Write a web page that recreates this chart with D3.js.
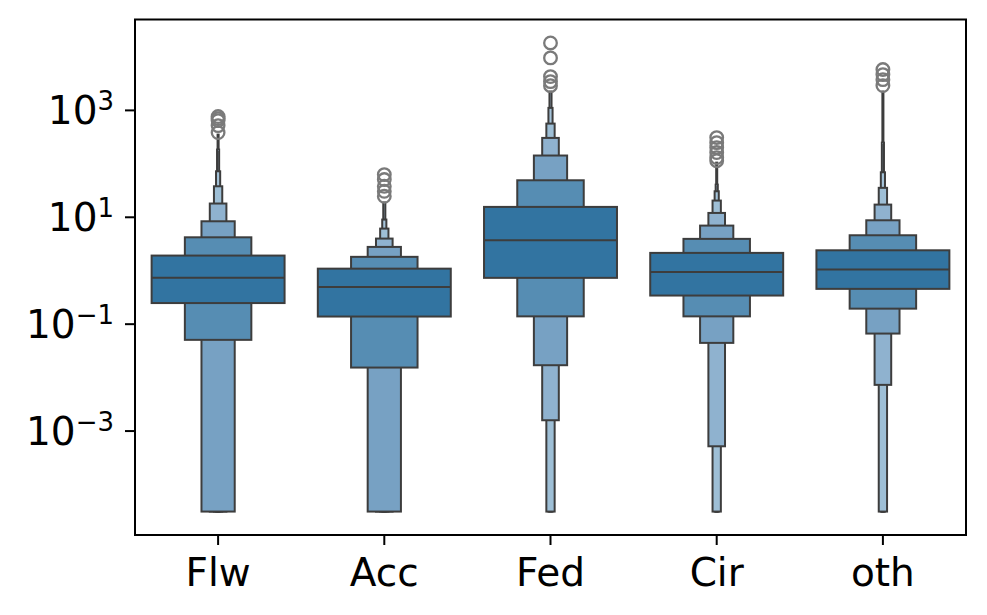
<!DOCTYPE html>
<html>
<head>
<meta charset="utf-8">
<script src="https://cdn.jsdelivr.net/npm/d3@7"></script>
<style>
  html, body { margin: 0; padding: 0; background: #fff; }
  svg { display: block; }
  text { font-family: "DejaVu Sans", sans-serif; fill: #000; }
</style>
</head>
<body>
<svg id="chart" width="987" height="615"></svg>
<script>
// ---- data ----
const categories = ["Flw", "Acc", "Fed", "Cir", "oth"];
const medians = [0.72, 0.488, 3.63, 0.931, 1.03];
// letter-value upper edges, innermost level first
const upperFlw = [1.88, 4.13, 8.24, 17.7, 37.2, 71, 181, 345];
const upperAcc = [1.07, 1.78, 2.73, 3.91, 6.01, 8.87, 18.5];
const upperFed = [15.3, 48.2, 140, 299, 554, 1090, 2200];
const upperCir = [2.11, 3.86, 6.84, 11.8, 20.1, 30, 40, 103];
const upperOth = [2.36, 4.51, 8.6, 16.9, 34.8, 68, 244, 2200];
// letter-value lower edges, innermost level first
const lowerFlw = [0.243, 0.0498, 3.05e-5, 3.05e-5, 3.05e-5, 3.05e-5, 3.05e-5, 3.05e-5];
const lowerAcc = [0.136, 0.0151, 3.05e-5, 3.05e-5, 3.05e-5, 3.05e-5, 3.05e-5];
const lowerFed = [0.72, 0.137, 0.0167, 0.00156, 3.05e-5, 3.05e-5, 3.05e-5];
const lowerCir = [0.336, 0.137, 0.0437, 0.000508, 3.05e-5, 3.05e-5, 3.05e-5, 3.05e-5];
const lowerOth = [0.448, 0.191, 0.0653, 0.00716, 3.05e-5, 3.05e-5, 3.05e-5, 3.05e-5];
// outliers
const outFlw = [750, 687, 631, 508, 376];
const outAcc = [61.6, 49.7, 37.2, 30, 24.2];
const outFed = [17900, 9400, 4200, 3380, 2840];
const outCir = [303, 244, 197, 159, 128, 112];
const outOth = [5680, 4570, 3680, 2850];
const yTicks = [1e-3, 1e-1, 1e1, 1e3];

const uppers = [upperFlw, upperAcc, upperFed, upperCir, upperOth];
const lowers = [lowerFlw, lowerAcc, lowerFed, lowerCir, lowerOth];
const outs = [outFlw, outAcc, outFed, outCir, outOth];
const levelColors = ["#3274a1", "#568db3", "#77a1c3", "#8fb2cf", "#9ebfd6", "#a6c4da", "#abc8dd", "#afcbdf"];

// ---- layout ----
const svg = d3.select("#chart");
const m = { left: 135, right: 966, top: 19.5, bottom: 535 };

const x = d3.scaleBand().domain(categories).range([m.left, m.right]).padding(0);

const allVals = [].concat(...uppers, ...lowers, ...outs);
const lmin = Math.log10(d3.min(allVals)), lmax = Math.log10(d3.max(allVals));
const pad = (lmax - lmin) * 0.05;
const y = d3.scaleLog().domain([Math.pow(10, lmin - pad), Math.pow(10, lmax + pad)])
  .range([m.bottom, m.top]);

const edge = "#3d3d3d";
const g = svg.append("g");

categories.forEach((c, ci) => {
  const cx = x(c) + x.bandwidth() / 2;
  const w0 = x.bandwidth() * 0.8;
  const up = uppers[ci], lo = lowers[ci];
  // draw from narrowest (outermost) to widest
  for (let i = up.length - 1; i >= 0; i--) {
    const w = w0 / Math.pow(2, i);
    g.append("rect")
      .attr("x", cx - w / 2)
      .attr("width", w)
      .attr("y", y(up[i]))
      .attr("height", y(lo[i]) - y(up[i]))
      .attr("fill", levelColors[Math.min(i, levelColors.length - 1)])
      .attr("stroke", edge)
      .attr("stroke-width", 2);
  }
  g.append("line")
    .attr("x1", cx - w0 / 2).attr("x2", cx + w0 / 2)
    .attr("y1", y(medians[ci])).attr("y2", y(medians[ci]))
    .attr("stroke", edge).attr("stroke-width", 2);
  g.selectAll(null).data(outs[ci]).enter().append("circle")
    .attr("cx", cx).attr("cy", d => y(d)).attr("r", 6.3)
    .attr("fill", "none").attr("stroke", "#7a7a7a").attr("stroke-width", 2.3);
});

// frame
svg.append("rect")
  .attr("x", m.left).attr("y", m.top)
  .attr("width", m.right - m.left).attr("height", m.bottom - m.top)
  .attr("fill", "none").attr("stroke", "#000").attr("stroke-width", 2);

// x axis
const xAxis = svg.append("g").attr("transform", `translate(0,${m.bottom})`)
  .call(d3.axisBottom(x).tickSize(10).tickPadding(0).tickFormat(""));
xAxis.select(".domain").remove();
xAxis.selectAll(".tick line").attr("stroke", "#000").attr("stroke-width", 2);
categories.forEach(c => {
  svg.append("text")
    .attr("x", x(c) + x.bandwidth() / 2).attr("y", 586)
    .attr("text-anchor", "middle").attr("font-size", 39).text(c);
});

// y axis
const yAxis = svg.append("g").attr("transform", `translate(${m.left},0)`)
  .call(d3.axisLeft(y).tickValues(yTicks).tickSize(10).tickFormat(""));
yAxis.select(".domain").remove();
yAxis.selectAll(".tick line").attr("stroke", "#000").attr("stroke-width", 2);
yTicks.forEach(t => {
  const e = Math.round(Math.log10(t));
  const txt = svg.append("text")
    .attr("x", 114).attr("y", y(t) + 14.5)
    .attr("text-anchor", "end").attr("font-size", 39);
  txt.append("tspan").text("10");
  txt.append("tspan").attr("dy", -14).attr("font-size", 26)
    .text(e < 0 ? "\u2212" + Math.abs(e) : String(e));
});
</script>
</body>
</html>
